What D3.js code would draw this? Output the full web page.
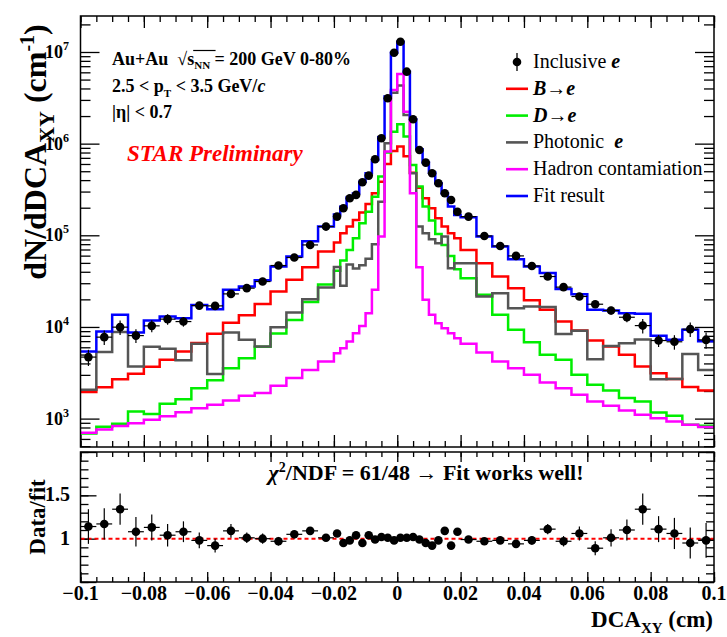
<!DOCTYPE html>
<html>
<head>
<meta charset="utf-8">
<script src="https://cdn.jsdelivr.net/npm/d3@7"></script>
<style>
  body { margin: 0; background: #fff; }
  text { font-family: "Liberation Serif", "Times New Roman", serif; }
</style>
</head>
<body>
<svg id="chart" width="727" height="637"></svg>
<script>
// bin edges of the DCA_XY histogram (cm): 0.005 wide outside, 0.002 wide in the core
var binEdges = [-0.1, -0.095, -0.09, -0.085, -0.08, -0.075, -0.07, -0.065, -0.06, -0.055, -0.05, -0.045, -0.04, -0.035, -0.03, -0.025, -0.02,
  -0.018, -0.016, -0.014, -0.012, -0.01, -0.008, -0.006, -0.004, -0.002, 0, 0.002, 0.004, 0.006, 0.008, 0.01, 0.012, 0.014, 0.016, 0.018, 0.02,
  0.025, 0.03, 0.035, 0.04, 0.045, 0.05, 0.055, 0.06, 0.065, 0.07, 0.075, 0.08, 0.085, 0.09, 0.095, 0.1];

// inclusive electrons (data points)
var inclusiveVals = [4690, 7740, 9950, 8050, 10280, 12170, 11450, 17100, 16980, 22950, 26500, 31300, 46800, 57200, 78500, 124500,
  160000, 197000, 254000, 276000, 379000, 448000, 676000, 1146000, 3130000, 9800000, 12950000, 6100000, 1845000, 853000, 621000, 475000, 370000, 288000, 243000, 181000,
  160000, 98400, 76500, 59600, 46300, 35500, 27200, 21500, 17700, 15100, 12760, 10350, 7110, 6890, 9460, 7230];

// templates
var bVals = [1950, 2200, 2680, 3080, 3670, 4380, 5390, 6700, 8410, 11100, 13400, 17800, 24300, 32700, 44900, 66400,
  83200, 105400, 124500, 147200, 177000, 220000, 288000, 385000, 600000, 830000, 930000, 730000, 480000, 330000, 254000, 197000, 153000, 124500, 105400, 93000,
  69300, 49600, 35500, 26500, 19500, 15380, 11450, 9140, 7110, 6110, 4960, 3700, 3130, 2700, 2210, 2030];

var dVals = [690, 815, 880, 1195, 1125, 1450, 1630, 2150, 2620, 3550, 4560, 6100, 8500, 11940, 18700, 29000,
  41000, 53000, 69300, 93000, 135500, 181000, 264000, 437000, 800000, 1350000, 1630000, 1200000, 586000, 340000, 205600, 145000, 103600, 78500, 59600, 42700,
  34000, 22400, 13550, 9300, 6800, 4960, 4380, 3010, 2340, 2030, 1675, 1540, 1166, 1075, 855, 834];

var photonicVals = [2060, 5330, 8800, 3700, 6070, 5800, 4340, 6550, 3070, 8690, 7230, 6110, 9900, 14370, 20000, 27000,
  45000, 28100, 48000, 43500, 47000, 55500, 80000, 233000, 1010000, 3600000, 4300000, 2060000, 475000, 124500, 105400, 90600, 82000, 96800, 43800, 49600,
  49600, 21500, 23300, 16000, 16700, 16500, 8400, 9100, 4450, 6200, 6650, 7300, 2680, 2700, 5060, 3400];

var hadronVals = [700, 760, 830, 890, 970, 1060, 1170, 1300, 1414, 1575, 1773, 1900, 2280, 2770, 3400, 4200,
  5180, 5870, 6940, 8560, 10270, 14100, 25400, 96800, 820000, 3850000, 5750000, 2230000, 288000, 44900, 19760, 13550, 11000, 9700, 8560, 7550,
  6550, 5260, 4200, 3550, 3010, 2480, 2150, 1820, 1540, 1380, 1227, 1100, 1012, 930, 855, 808];

var fitVals = [5390, 8910, 13550, 8690, 11750, 12980, 12470, 17400, 15630, 25400, 27600, 32400, 45600, 58600, 86000, 124500,
  169000, 205000, 259000, 285000, 385000, 475700, 664000, 1175000, 3260000, 9800000, 12950000, 6100000, 1845000, 869000, 621000, 483000, 370000, 288000, 205600, 166800,
  157500, 96800, 75300, 54900, 45600, 38900, 26000, 22700, 15380, 15100, 14130, 13900, 8000, 7230, 9300, 7000];

// lower pad
var ratioVals = [1.14, 1.17, 1.34, 1.08, 1.13, 1.04, 1.08, 0.98, 0.92, 1.09, 1.01, 1.00, 0.97, 1.05, 1.09, 1.01,
  1.06, 0.95, 0.98, 1.04, 0.95, 1.04, 0.99, 1.02, 1.01, 0.98, 1.01, 1.01, 1.02, 0.99, 0.95, 0.92, 0.98, 1.09, 0.92, 1.08,
  0.99, 0.97, 0.98, 0.94, 0.98, 1.11, 0.97, 1.06, 0.89, 1.01, 1.10, 1.34, 1.11, 1.06, 0.95, 0.98];
var ratioErr = [0.2, 0.18, 0.18, 0.17, 0.15, 0.13, 0.12, 0.09, 0.08, 0.08, 0.06, 0.06, 0.05, 0.04, 0.04, 0.03,
  0.03, 0.03, 0.025, 0.025, 0.02, 0.02, 0.02, 0.015, 0.01, 0.01, 0.01, 0.01, 0.015, 0.02, 0.02, 0.02, 0.025, 0.025, 0.03, 0.03,
  0.03, 0.03, 0.04, 0.04, 0.05, 0.06, 0.06, 0.08, 0.08, 0.1, 0.12, 0.18, 0.15, 0.18, 0.18, 0.2];

var xTicks = [-0.1, -0.08, -0.06, -0.04, -0.02, 0, 0.02, 0.04, 0.06, 0.08, 0.1];
var xTickLabels = ["\u22120.1", "\u22120.08", "\u22120.06", "\u22120.04", "\u22120.02", "0", "0.02", "0.04", "0.06", "0.08", "0.1"];
var yDecades = [1e3, 1e4, 1e5, 1e6, 1e7];
var yExponents = ["3", "4", "5", "6", "7"];
var ratioTicks = [1, 1.5];
var ratioTickLabels = ["1", "1.5"];

var series = [
  { name: "B", vals: bVals, color: "#ff0000" },
  { name: "D", vals: dVals, color: "#00ee00" },
  { name: "Photonic", vals: photonicVals, color: "#555555" },
  { name: "Hadron", vals: hadronVals, color: "#ff00ff" },
  { name: "Fit", vals: fitVals, color: "#0000ff" }
];

var svg = d3.select("#chart");

var frameL = 80.5, frameR = 714;
var upTop = 16, upBot = 447;
var loTop = 452, loBot = 582;

var x = d3.scaleLinear().domain([-0.1, 0.1]).range([frameL, frameR]);
var y = d3.scaleLog().domain([490, 2.47e7]).range([upBot, upTop]);
var yr = d3.scaleLinear().domain([0.5, 2.0]).range([loBot, loTop]);

var xMinor = d3.range(-0.1, 0.1001, 0.005);
var yMinor = [];
yDecades.concat([1e2]).forEach(function (d) {
  for (var k = 2; k <= 9; k++) {
    var v = d * k;
    if (v > y.domain()[0] && v < y.domain()[1]) yMinor.push(v);
  }
});
var rMinor = d3.range(0.5, 2.001, 0.1);

function tickAxis(axisFn, scale, vals, size, tr) {
  var g = svg.append("g")
    .attr("transform", tr)
    .call(axisFn(scale).tickValues(vals).tickSize(size).tickFormat(""));
  g.select(".domain").remove();
  g.selectAll("line").attr("stroke", "#000").attr("stroke-width", 1.3);
}

// ---- upper pad ticks
tickAxis(d3.axisLeft, y, yMinor, -10, "translate(" + frameL + ",0)");
tickAxis(d3.axisLeft, y, yDecades, -19, "translate(" + frameL + ",0)");
tickAxis(d3.axisRight, y, yMinor, -10, "translate(" + frameR + ",0)");
tickAxis(d3.axisRight, y, yDecades, -19, "translate(" + frameR + ",0)");
tickAxis(d3.axisBottom, x, xMinor, -6, "translate(0," + upBot + ")");
tickAxis(d3.axisBottom, x, xTicks, -12, "translate(0," + upBot + ")");
tickAxis(d3.axisTop, x, xMinor, -6, "translate(0," + upTop + ")");
tickAxis(d3.axisTop, x, xTicks, -12, "translate(0," + upTop + ")");

// ---- lower pad ticks
tickAxis(d3.axisLeft, yr, rMinor, -8, "translate(" + frameL + ",0)");
tickAxis(d3.axisLeft, yr, [0.5, 1, 1.5, 2], -16, "translate(" + frameL + ",0)");
tickAxis(d3.axisRight, yr, rMinor, -8, "translate(" + frameR + ",0)");
tickAxis(d3.axisRight, yr, [0.5, 1, 1.5, 2], -16, "translate(" + frameR + ",0)");
tickAxis(d3.axisBottom, x, xMinor, -5, "translate(0," + loBot + ")");
tickAxis(d3.axisBottom, x, xTicks, -10, "translate(0," + loBot + ")");
tickAxis(d3.axisTop, x, xMinor, -5, "translate(0," + loTop + ")");
tickAxis(d3.axisTop, x, xTicks, -10, "translate(0," + loTop + ")");

// ---- histograms
function stepPoints(vals) {
  var pts = [];
  vals.forEach(function (v, i) {
    pts.push([x(binEdges[i]), y(v)]);
    pts.push([x(binEdges[i + 1]), y(v)]);
  });
  return pts;
}
var line = d3.line();
svg.append("g").selectAll("path")
  .data(series)
  .join("path")
  .attr("d", function (s) { return line(stepPoints(s.vals)); })
  .attr("fill", "none")
  .attr("stroke", function (s) { return s.color; })
  .attr("stroke-width", 2.5)
  .attr("stroke-linejoin", "miter");

// ---- data points (upper)
var mid = function (i) { return (binEdges[i] + binEdges[i + 1]) / 2; };
var pts = svg.append("g");
inclusiveVals.forEach(function (v, i) {
  var e = v * ratioErr[i];
  pts.append("line").attr("x1", x(binEdges[i])).attr("x2", x(binEdges[i + 1]))
    .attr("y1", y(v)).attr("y2", y(v)).attr("stroke", "#000").attr("stroke-width", 1.2);
  pts.append("line").attr("x1", x(mid(i))).attr("x2", x(mid(i)))
    .attr("y1", y(v - e)).attr("y2", y(v + e)).attr("stroke", "#000").attr("stroke-width", 1.2);
  pts.append("circle").attr("cx", x(mid(i))).attr("cy", y(v)).attr("r", 4.3).attr("fill", "#000");
});

// ---- ratio pad
svg.append("line")
  .attr("x1", frameL).attr("x2", frameR)
  .attr("y1", yr(1)).attr("y2", yr(1))
  .attr("stroke", "#ff0000").attr("stroke-width", 2)
  .attr("stroke-dasharray", "4,3");

var rpts = svg.append("g");
ratioVals.forEach(function (v, i) {
  var e = ratioErr[i];
  rpts.append("line").attr("x1", x(binEdges[i])).attr("x2", x(binEdges[i + 1]))
    .attr("y1", yr(v)).attr("y2", yr(v)).attr("stroke", "#000").attr("stroke-width", 1.2);
  rpts.append("line").attr("x1", x(mid(i))).attr("x2", x(mid(i)))
    .attr("y1", yr(v - e)).attr("y2", yr(v + e)).attr("stroke", "#000").attr("stroke-width", 1.2);
  rpts.append("circle").attr("cx", x(mid(i))).attr("cy", yr(v)).attr("r", 4.3).attr("fill", "#000");
});

// ---- frames
svg.append("rect").attr("x", frameL).attr("y", upTop).attr("width", frameR - frameL).attr("height", upBot - upTop)
  .attr("fill", "none").attr("stroke", "#000").attr("stroke-width", 1.5);
svg.append("rect").attr("x", frameL).attr("y", loTop).attr("width", frameR - frameL).attr("height", loBot - loTop)
  .attr("fill", "none").attr("stroke", "#000").attr("stroke-width", 1.5);

// ---- axis labels
var yl = svg.append("g").attr("font-weight", "bold").attr("font-size", 18);
yDecades.forEach(function (d, i) {
  var t = yl.append("text").attr("x", 69).attr("y", y(d) + 6).attr("text-anchor", "end");
  t.append("tspan").text("10");
  t.append("tspan").attr("dy", -8).attr("font-size", 12).text(yExponents[i]);
});

var rl = svg.append("g").attr("font-weight", "bold").attr("font-size", 20);
ratioTicks.forEach(function (d, i) {
  rl.append("text").attr("x", 70).attr("y", yr(d) + 6).attr("text-anchor", "end").text(ratioTickLabels[i]);
});

var xl = svg.append("g").attr("font-weight", "bold").attr("font-size", 20);
xTicks.forEach(function (d, i) {
  xl.append("text").attr("x", x(d)).attr("y", 600).attr("text-anchor", "middle").text(xTickLabels[i]);
});

// x title
var xt = svg.append("text").attr("x", 713).attr("y", 627).attr("text-anchor", "end")
  .attr("font-weight", "bold").attr("font-size", 23);
xt.append("tspan").text("DCA");
xt.append("tspan").attr("dy", 6).attr("font-size", 15).text("XY");
xt.append("tspan").attr("dy", -6).text(" (cm)");

// y title (upper)
var yt = svg.append("text").attr("transform", "translate(46,152) rotate(-90)").attr("text-anchor", "middle")
  .attr("font-weight", "bold").attr("font-size", 32);
yt.append("tspan").text("dN/dDCA");
yt.append("tspan").attr("dy", 8).attr("font-size", 22).text("XY");
yt.append("tspan").attr("dy", -8).text(" (cm");
yt.append("tspan").attr("dy", -12).attr("font-size", 20).text("-1");
yt.append("tspan").attr("dy", 12).text(")");

// y title (lower)
svg.append("text").attr("transform", "translate(45,517) rotate(-90)").attr("text-anchor", "middle")
  .attr("font-weight", "bold").attr("font-size", 23).text("Data/fit");

// ---- annotations
var ann = svg.append("g").attr("font-weight", "bold").attr("font-size", 18);
var l1 = ann.append("text").attr("x", 112).attr("y", 65);
l1.append("tspan").text("Au+Au");
l1.append("tspan").attr("dx", 9).text("\u221A");
l1.append("tspan").text("s");
l1.append("tspan").attr("dy", 4).attr("font-size", 11).text("NN");
l1.append("tspan").attr("dy", -4).text(" = 200 GeV 0-80%");
// overline of the square root
try {
  var node = l1.node();
  var a = node.getExtentOfChar(6), b = node.getExtentOfChar(9);
  ann.append("line").attr("x1", a.x + a.width - 1).attr("x2", b.x + b.width + 1)
    .attr("y1", a.y + 1.5).attr("y2", a.y + 1.5).attr("stroke", "#000").attr("stroke-width", 1.2);
} catch (err) {}

var l2 = ann.append("text").attr("x", 112).attr("y", 92);
l2.append("tspan").text("2.5 < p");
l2.append("tspan").attr("dy", 5).attr("font-size", 11).text("T");
l2.append("tspan").attr("dy", -5).text(" < 3.5 GeV/");
l2.append("tspan").attr("font-style", "italic").text("c");

ann.append("text").attr("x", 112).attr("y", 118).text("|\u03B7| < 0.7");

svg.append("text").attr("x", 127).attr("y", 161).attr("font-weight", "bold").attr("font-style", "italic")
  .attr("font-size", 23).attr("fill", "#ff0000").text("STAR Preliminary");

// chi2 label
var chi = svg.append("text").attr("x", 426).attr("y", 480).attr("text-anchor", "middle")
  .attr("font-weight", "bold").attr("font-size", 22);
chi.append("tspan").attr("font-style", "italic").text("\u03C7");
chi.append("tspan").attr("dy", -8).attr("font-size", 14).text("2");
chi.append("tspan").attr("dy", 8).text("/NDF = 61/48 \u2192  Fit works well!");

// ---- legend
var legendRows = [
  { kind: "point", parts: [["Inclusive ", false], ["e", true]] },
  { kind: "line", color: "#ff0000", parts: [["B", true], ["\u2192", false], ["e", true]] },
  { kind: "line", color: "#00ee00", parts: [["D", true], ["\u2192", false], ["e", true]] },
  { kind: "line", color: "#555555", parts: [["Photonic  ", false], ["e", true]] },
  { kind: "line", color: "#ff00ff", parts: [["Hadron contamiation", false]] },
  { kind: "line", color: "#0000ff", parts: [["Fit result", false]] }
];
var lg = svg.append("g");
legendRows.forEach(function (r, i) {
  var by = 68 + i * 26.8;
  var cy = by - 6;
  if (r.kind === "point") {
    lg.append("line").attr("x1", 517).attr("x2", 517).attr("y1", cy - 9).attr("y2", cy + 9)
      .attr("stroke", "#000").attr("stroke-width", 1.3);
    lg.append("circle").attr("cx", 517).attr("cy", cy).attr("r", 4.3).attr("fill", "#000");
  } else {
    lg.append("line").attr("x1", 506).attr("x2", 528).attr("y1", cy).attr("y2", cy)
      .attr("stroke", r.color).attr("stroke-width", 2.6);
  }
  var t = lg.append("text").attr("x", 533).attr("y", by).attr("font-size", 20)
    .attr("xml:space", "preserve").style("white-space", "pre");
  r.parts.forEach(function (p) {
    var ts = t.append("tspan").text(p[0]);
    if (p[1]) ts.attr("font-weight", "bold").attr("font-style", "italic");
  });
});
</script>
</body>
</html>
